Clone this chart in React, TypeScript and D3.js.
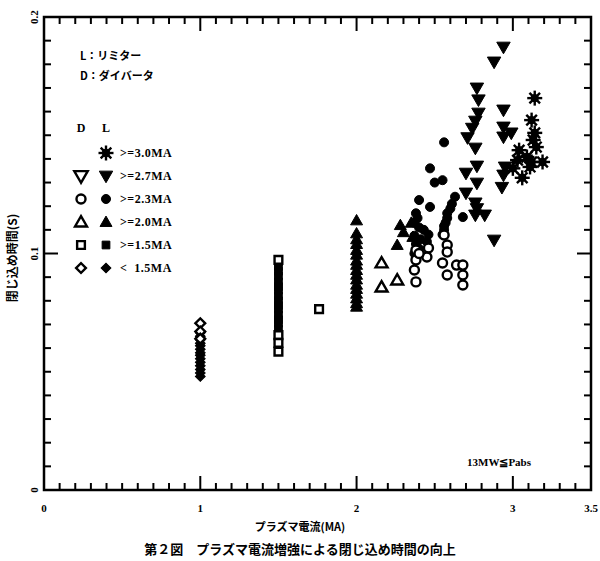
import * as d3 from "d3";

type Pt = [number, number];

// plasma current (MA), confinement time (s)
const lim30Star: Pt[] = [
  [3.14, 0.1657], [3.12, 0.1564], [3.14, 0.151], [3.13, 0.148], [3.15, 0.145],
  [3.04, 0.1437], [3.09, 0.1408], [3.03, 0.1395], [3.19, 0.1387], [3.12, 0.1387],
  [3.0, 0.136], [3.06, 0.132], [3.11, 0.1366],
];
const lim27Down: Pt[] = [
  [2.94, 0.1873], [2.88, 0.181], [2.77, 0.17], [2.78, 0.165], [2.78, 0.1594],
  [2.76, 0.156], [2.74, 0.153], [2.71, 0.149], [2.76, 0.1446], [2.94, 0.1607],
  [2.94, 0.1535], [2.99, 0.151], [2.94, 0.1493], [2.77, 0.137], [2.7, 0.134],
  [2.77, 0.1298], [2.7, 0.1256], [2.76, 0.1214], [2.77, 0.119], [2.76, 0.1163],
  [2.82, 0.1163], [2.88, 0.1057], [2.95, 0.1366], [2.94, 0.1332], [2.93, 0.128],
];
const lim23Circle: Pt[] = [
  [2.56, 0.147], [2.47, 0.136], [2.5, 0.13], [2.55, 0.131], [2.4, 0.1226],
  [2.47, 0.1197], [2.68, 0.1154], [2.38, 0.117], [2.39, 0.115], [2.37, 0.113],
  [2.4, 0.111], [2.43, 0.11], [2.46, 0.108], [2.37, 0.1075], [2.41, 0.106],
  [2.45, 0.105], [2.38, 0.104], [2.4, 0.102], [2.37, 0.1], [2.63, 0.124],
  [2.61, 0.121], [2.6, 0.119], [2.58, 0.117], [2.58, 0.115], [2.57, 0.113],
  [2.56, 0.1116], [2.56, 0.11], [2.55, 0.108],
];
const div23Circle: Pt[] = [
  [2.46, 0.1023], [2.45, 0.0985], [2.38, 0.0973], [2.37, 0.093], [2.38, 0.088],
  [2.38, 0.1015], [2.4, 0.1], [2.56, 0.1078], [2.58, 0.1036], [2.58, 0.1006],
  [2.55, 0.096], [2.58, 0.0909], [2.64, 0.0951], [2.68, 0.0951], [2.68, 0.0909],
  [2.68, 0.0867],
];
const lim20Tri: Pt[] = [
  [2.0, 0.114], [2.0, 0.1085], [2.0, 0.106], [2.0, 0.104], [2.0, 0.1015],
  [2.0, 0.0995], [2.0, 0.097], [2.0, 0.0952], [2.0, 0.093], [2.0, 0.091],
  [2.0, 0.089], [2.0, 0.0868], [2.0, 0.085], [2.0, 0.083], [2.0, 0.081],
  [2.0, 0.079], [2.0, 0.0775], [2.28, 0.112], [2.3, 0.109], [2.26, 0.1036],
  [2.35, 0.113], [2.36, 0.107],
];
const div20Tri: Pt[] = [[2.16, 0.096], [2.16, 0.0858], [2.26, 0.0888]];
const lim15Square: Pt[] = [
  [1.5, 0.0965], [1.5, 0.0945], [1.5, 0.0925], [1.5, 0.0905], [1.5, 0.088],
  [1.5, 0.086], [1.5, 0.0845], [1.5, 0.082], [1.5, 0.08], [1.5, 0.078],
  [1.5, 0.0765], [1.5, 0.074], [1.5, 0.072], [1.5, 0.0705], [1.5, 0.068],
  [1.5, 0.066], [1.5, 0.064], [1.5, 0.0615], [1.5, 0.0598],
];
const div15Square: Pt[] = [[1.5, 0.0973], [1.5, 0.0655], [1.5, 0.0622], [1.5, 0.0585], [1.76, 0.0765]];
const limLowDiamond: Pt[] = [
  [1.0, 0.048], [1.0, 0.0495], [1.0, 0.051], [1.0, 0.0525], [1.0, 0.054],
  [1.0, 0.0555], [1.0, 0.057], [1.0, 0.058], [1.0, 0.0595], [1.0, 0.061],
  [1.0, 0.062], [1.0, 0.0635], [1.0, 0.065], [1.0, 0.0665],
];
const divLowDiamond: Pt[] = [[1.0, 0.0705], [1.0, 0.067], [1.0, 0.064]];

const xTicks = [0, 1, 2, 3, 3.5];
const xTickLabels = ["0", "1", "2", "3", "3.5"];
const yTicks = [0, 0.1, 0.2];
const yTickLabels = ["0", "0.1", "0.2"];
const legendLabels = [">=3.0MA", ">=2.7MA", ">=2.3MA", ">=2.0MA", ">=1.5MA", "<\u00a0\u00a01.5MA"];

const W = 600;
const H = 561;
const left = 44, right = 591, top = 17, bottom = 490;

const x = d3.scaleLinear().domain([0, 3.5]).range([left, right]);
const y = d3.scaleLinear().domain([0, 0.2]).range([bottom, top]);

const serif = "'Liberation Serif', 'DejaVu Serif', serif";
const jp = "'Noto Sans CJK JP', sans-serif";

type Kind = "star" | "down" | "circle" | "tri" | "square" | "diamond";

const symPath: Record<Exclude<Kind, "star">, string> = {
  down: d3.symbol().type(d3.symbolTriangle).size(78)()!,
  circle: d3.symbol().type(d3.symbolCircle).size(64)()!,
  tri: d3.symbol().type(d3.symbolTriangle).size(62)()!,
  square: d3.symbol().type(d3.symbolSquare).size(60)()!,
  diamond: d3.symbol().type(d3.symbolSquare).size(48)()!,
};

function Marker({ kind, cx, cy, filled }: { kind: Kind; cx: number; cy: number; filled: boolean }) {
  if (kind === "star") {
    const r = 7.5;
    const angles = d3.range(0, 180, 45);
    return (
      <g transform={`translate(${cx},${cy})`} stroke="#000" strokeWidth={2.4}>
        {angles.map((a) => {
          const t = (a * Math.PI) / 180;
          return <line key={a} x1={-r * Math.cos(t)} y1={-r * Math.sin(t)} x2={r * Math.cos(t)} y2={r * Math.sin(t)} />;
        })}
        <circle r={3} fill="#000" />
      </g>
    );
  }
  const rot = kind === "down" ? " rotate(180)" : kind === "diamond" ? " rotate(45)" : "";
  const dy = kind === "tri" ? 1 : kind === "down" ? -1 : 0;
  return (
    <path
      d={symPath[kind]}
      transform={`translate(${cx},${cy + dy})${rot}`}
      fill={filled ? "#000" : "#fff"}
      stroke="#000"
      strokeWidth={filled ? 1 : 2.4}
    />
  );
}

const series: { data: Pt[]; kind: Kind; filled: boolean }[] = [
  { data: limLowDiamond, kind: "diamond", filled: true },
  { data: divLowDiamond, kind: "diamond", filled: false },
  { data: lim15Square, kind: "square", filled: true },
  { data: div15Square, kind: "square", filled: false },
  { data: lim20Tri, kind: "tri", filled: true },
  { data: div20Tri, kind: "tri", filled: false },
  { data: lim23Circle, kind: "circle", filled: true },
  { data: div23Circle, kind: "circle", filled: false },
  { data: lim27Down, kind: "down", filled: true },
  { data: lim30Star, kind: "star", filled: true },
];

const legendRows: { kind: Kind; hasD: boolean }[] = [
  { kind: "star", hasD: false },
  { kind: "down", hasD: true },
  { kind: "circle", hasD: true },
  { kind: "tri", hasD: true },
  { kind: "square", hasD: true },
  { kind: "diamond", hasD: true },
];

export default function App() {
  const xMinor = d3.range(1, 35).map((i) => i / 10);
  const yMinor = d3.range(1, 20).map((i) => i / 100);
  return (
    <svg width={W} height={H} style={{ position: "absolute", left: 0, top: 0, background: "#fff" }}>
      <rect x={0} y={0} width={W} height={H} fill="#fff" />
      <rect x={left} y={top} width={right - left} height={bottom - top} fill="none" stroke="#000" strokeWidth={2.5} />
      {/* ticks */}
      {xMinor.map((v) => {
        const len = Math.abs(v - Math.round(v)) < 1e-6 ? 14 : 7;
        return (
          <g key={"x" + v} stroke="#000" strokeWidth={2}>
            <line x1={x(v)} x2={x(v)} y1={bottom} y2={bottom - len} />
            <line x1={x(v)} x2={x(v)} y1={top} y2={top + len} />
          </g>
        );
      })}
      {yMinor.map((v) => {
        const len = Math.abs(v - 0.1) < 1e-6 ? 14 : 7;
        return (
          <g key={"y" + v} stroke="#000" strokeWidth={2}>
            <line x1={left} x2={left + len} y1={y(v)} y2={y(v)} />
            <line x1={right} x2={right - len} y1={y(v)} y2={y(v)} />
          </g>
        );
      })}

      {/* tick labels */}
      <g fontFamily={serif} fontWeight="bold" fontSize={11}>
        {xTicks.map((v, i) => (
          <text key={v} x={x(v)} y={bottom + 22} textAnchor="middle">{xTickLabels[i]}</text>
        ))}
        {yTicks.map((v, i) => (
          <text key={v} transform={`translate(${left - 6},${y(v)}) rotate(-90)`} textAnchor="middle">{yTickLabels[i]}</text>
        ))}
      </g>

      {/* axis titles */}
      <text x={300} y={531} textAnchor="middle" fontFamily={jp} fontWeight="bold" fontSize={11}>プラズマ電流(MA)</text>
      <text transform={`translate(17,258) rotate(-90)`} textAnchor="middle" fontFamily={jp} fontWeight="bold" fontSize={12}>閉じ込め時間(S)</text>
      <text x={300} y={554} textAnchor="middle" fontFamily={jp} fontWeight="bold" fontSize={13}>第２図　プラズマ電流増強による閉じ込め時間の向上</text>

      {/* data */}
      {series.map((s, si) => (
        <g key={si}>
          {s.data.map((d, i) => (
            <Marker key={i} kind={s.kind} cx={x(d[0])} cy={y(d[1])} filled={s.filled} />
          ))}
        </g>
      ))}

      {/* legend */}
      <g fontWeight="bold" fontSize={12}>
        <text x={80} y={60} fontFamily={jp} fontSize={11}>L：リミター</text>
        <text x={80} y={80} fontFamily={jp} fontSize={11}>D：ダイバータ</text>
        <text x={81} y={132} fontFamily={serif} textAnchor="middle">D</text>
        <text x={106} y={132} fontFamily={serif} textAnchor="middle">L</text>
        {legendRows.map((r, i) => {
          const ry = 153 + i * 23;
          return (
            <g key={i}>
              {r.hasD && <Marker kind={r.kind} cx={81} cy={ry} filled={false} />}
              <Marker kind={r.kind} cx={106} cy={ry} filled={true} />
              <text x={120} y={ry + 4} fontFamily={serif} letterSpacing={0.5}>{legendLabels[i]}</text>
            </g>
          );
        })}
      </g>

      <text x={467} y={466} fontFamily={serif} fontWeight="bold" fontSize={11}>13MW≦Pabs</text>
    </svg>
  );
}
